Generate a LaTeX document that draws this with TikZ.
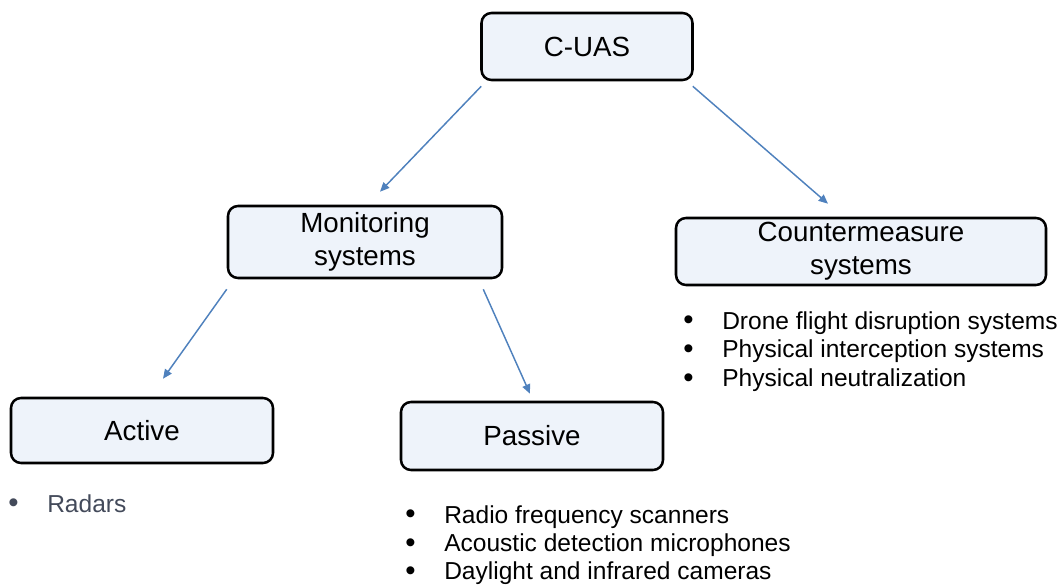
\documentclass[tikz,border=0pt]{standalone}
\usepackage{fontspec}
\setmainfont{Liberation Sans}
\usepackage{xcolor}
\usetikzlibrary{arrows.meta, positioning}

\definecolor{boxfill}{HTML}{EEF3FA}
\definecolor{linkblue}{HTML}{4F81BD}
\definecolor{slate}{HTML}{434A5A}

\newcommand{\bitem}[1]{\makebox[29.25pt][l]{\raisebox{-0.6pt}{\fontsize{22}{22}\selectfont\textbullet}}#1}

\begin{document}
\begin{tikzpicture}[
  x=0.75pt, y=-0.75pt,
  box/.style={rectangle, draw=black, line width=1.9pt, rounded corners=7.5pt,
              fill=boxfill, align=center, inner sep=0pt,
              font=\fontsize{20.8}{24.8}\selectfont},
  itemlist/.style={anchor=north west, align=left, inner sep=0pt,
              font=\fontsize{18.4}{21.6}\selectfont},
  arrow/.style={-{Triangle[length=7pt, width=6pt]}, line width=1.1pt, draw=linkblue}
]
\useasboundingbox (0,0) rectangle (1061,585);

% Top
\node[box, minimum width=158.25pt, minimum height=50.25pt] (cuas) at (587,46.5) {C-UAS};

% Second level
\node[box, minimum width=205.5pt, minimum height=54pt] (monitor) at (365,242) {Monitoring\\systems};
\node[box, minimum width=277.5pt, minimum height=50.25pt] (counter) at (861,251.5) {Countermeasure\\systems};

% Third level
\node[box, minimum width=196.5pt, minimum height=48.75pt] (active) at (142,430.5) {Active};
\node[box, minimum width=196.5pt, minimum height=51pt] (passive) at (532,436) {Passive};

% Lists
\node[itemlist] (counterlist) at (683,311) {\bitem{Drone flight disruption systems}\\
  \bitem{Physical interception systems}\\
  \bitem{Physical neutralization}};
\node[itemlist, text=slate] (activelist) at (8,494) {\bitem{Radars}};
\node[itemlist, font=\fontsize{18.4}{21.2}\selectfont] (passivelist) at (405,505) {\bitem{Radio frequency scanners}\\
  \bitem{Acoustic detection microphones}\\
  \bitem{Daylight and infrared cameras}};

% Edges
\draw[arrow] ([shift={(1,5)}]cuas.south west) -- ([shift={(15,-13)}]monitor.north);
\draw[arrow] ([shift={(-1,5)}]cuas.south east) -- ([shift={(-33,-13)}]counter.north);
\draw[arrow] ([shift={(0,10)}]monitor.south west) -- ([shift={(21,-18)}]active.north);
\draw[arrow] ([shift={(-20,10)}]monitor.south east) -- ([shift={(-2,-7)}]passive.north);
\end{tikzpicture}
\end{document}
